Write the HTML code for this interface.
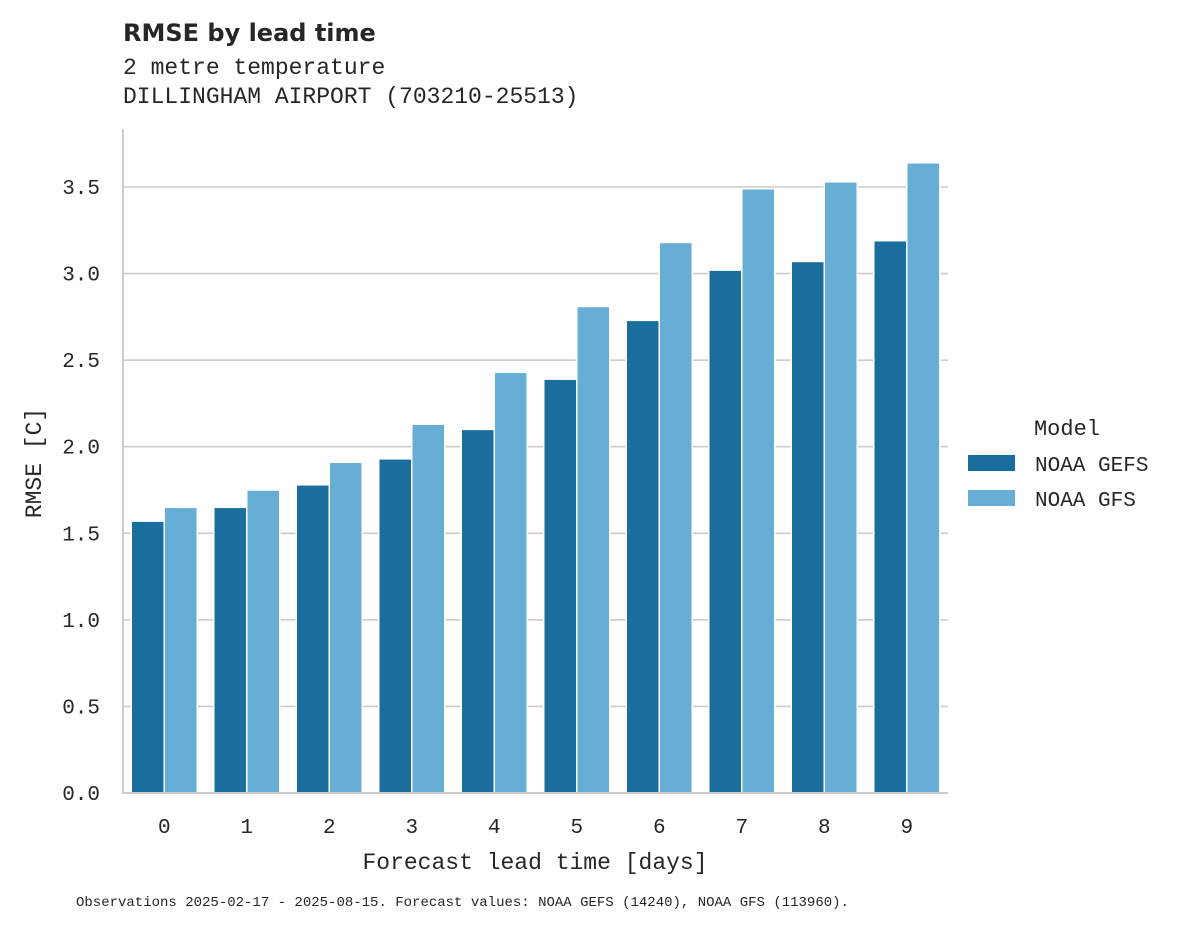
<!DOCTYPE html>
<html><head><meta charset="utf-8"><style>
body{margin:0;background:#fff;}
svg text{font-family:"Liberation Mono","DejaVu Sans Mono",monospace;fill:#262626;}
</style></head><body>
<svg id="chart" width="1188" height="928" xmlns="http://www.w3.org/2000/svg">
<text x="123" y="41" font-size="24" font-weight="bold" style="font-family:'DejaVu Sans','Liberation Sans',sans-serif">RMSE by lead time</text>
<text x="123" y="74" font-size="23">2 metre temperature</text>
<text x="123" y="103" font-size="23">DILLINGHAM AIRPORT (703210-25513)</text>
<g id="grid"></g><g id="bars"></g><g id="axes"></g>
<text transform="translate(41,463) rotate(-90)" text-anchor="middle" font-size="23">RMSE [C]</text>
<text x="535" y="869" text-anchor="middle" font-size="23">Forecast lead time [days]</text>
<g>
<text x="1067" y="435" text-anchor="middle" font-size="22">Model</text>
<rect x="968" y="455" width="47" height="16" fill="#1a6e9e"/>
<text x="1035" y="471" font-size="21">NOAA GEFS</text>
<rect x="968" y="490" width="47" height="16" fill="#67aed6"/>
<text x="1035" y="506" font-size="21">NOAA GFS</text>
</g>
<text x="76" y="906" font-size="14">Observations 2025-02-17 - 2025-08-15. Forecast values: NOAA GEFS (14240), NOAA GFS (113960).</text>
</svg>
<script>
const categories=["0","1","2","3","4","5","6","7","8","9"];
const gefsValues=[1.57,1.65,1.78,1.93,2.10,2.39,2.73,3.02,3.07,3.19];
const gfsValues=[1.65,1.75,1.91,2.13,2.43,2.81,3.18,3.49,3.53,3.64];
const yTicks=["0.0","0.5","1.0","1.5","2.0","2.5","3.0","3.5"];
const NS="http://www.w3.org/2000/svg";
const x0=123,x1=948,yBase=793,pxPerUnit=173.14;
const y=v=>yBase-v*pxPerUnit;
const step=(x1-x0)/categories.length;
const xc=i=>x0+step*(i+0.5);
function mk(tag,attrs,parent){const e=document.createElementNS(NS,tag);for(const k in attrs)e.setAttribute(k,attrs[k]);parent.appendChild(e);return e;}
const grid=document.getElementById('grid'),bars=document.getElementById('bars'),axes=document.getElementById('axes');
yTicks.forEach(t=>{const v=parseFloat(t);
 const l=mk('line',{x1:x0,x2:x1,y1:y(v),y2:y(v),stroke:'#cccccc','stroke-width':1.6},grid);
 
 
 const tx=mk('text',{x:x0-23,y:y(v)+7,'text-anchor':'end','font-size':21},axes);tx.textContent=t;
 
 
});
const bw=step*0.8/2;
categories.forEach((c,i)=>{
 [[gefsValues,'#1a6e9e','gefs'],[gfsValues,'#67aed6','gfs']].forEach(([arr,col,nm],j)=>{
  const bx=xc(i)-bw+j*bw;
  const r=mk('rect',{x:bx,y:y(arr[i]),width:bw,height:yBase-y(arr[i]),fill:col,stroke:'#fff','stroke-width':1.5},bars);
  
  
 });
 const tx=mk('text',{x:xc(i),y:yBase+40,'text-anchor':'middle','font-size':21},axes);tx.textContent=c;
 
 
});
const ya=mk('line',{x1:x0,x2:x0,y1:129,y2:yBase+1,stroke:'#cccccc','stroke-width':2},axes);


const xa=mk('line',{x1:x0,x2:x1,y1:yBase,y2:yBase,stroke:'#cccccc','stroke-width':2},axes);


</script>
</body></html>
